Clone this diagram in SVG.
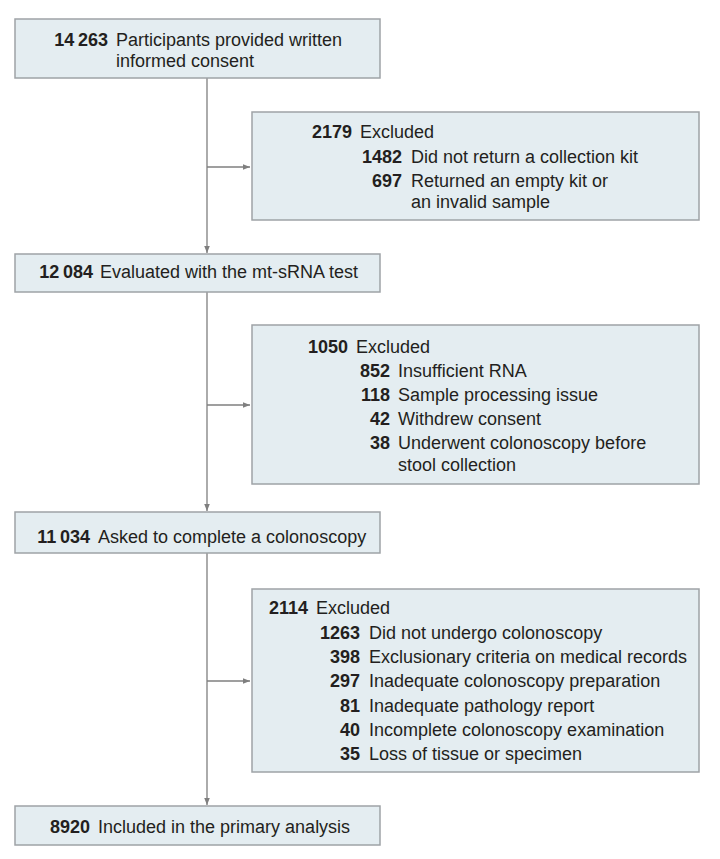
<svg xmlns="http://www.w3.org/2000/svg" width="720" height="859" viewBox="0 0 720 859">
<defs>
<marker id="ah" viewBox="0 0 10 10" refX="10" refY="5" markerWidth="7" markerHeight="7" markerUnits="userSpaceOnUse" orient="auto">
<path d="M0,1 L10,5 L0,9 Z" fill="#7f7f7f"/>
</marker>
<style>
.box{fill:#e4edf1;stroke:#9ea3a6;stroke-width:1.5}
text{font-family:"Liberation Sans",Arial,sans-serif;font-size:18px;fill:#231f20}
.n{font-weight:bold;text-anchor:end}
.ln{stroke:#7f7f7f;stroke-width:1.3;fill:none}
</style>
</defs>
<rect width="720" height="859" fill="#ffffff"/>
<g id="connectors">
<line class="ln" x1="207" y1="78" x2="207" y2="253" marker-end="url(#ah)"/>
<line class="ln" x1="207" y1="292" x2="207" y2="511" marker-end="url(#ah)"/>
<line class="ln" x1="207" y1="553" x2="207" y2="805" marker-end="url(#ah)"/>
<line class="ln" x1="207" y1="167" x2="250" y2="167" marker-end="url(#ah)"/>
<line class="ln" x1="207" y1="405" x2="250" y2="405" marker-end="url(#ah)"/>
<line class="ln" x1="207" y1="681" x2="250" y2="681" marker-end="url(#ah)"/>
</g>
<g id="n1">
<rect class="box" x="15" y="19" width="365" height="59"/>
<text class="n" x="108" y="46">14&#8201;263</text>
<text x="116" y="46">Participants provided written</text>
<text x="116" y="67">informed consent</text>
</g>
<g id="n2">
<rect class="box" x="252" y="112" width="447" height="108"/>
<text class="n" x="352" y="138">2179</text>
<text x="360" y="138">Excluded</text>
<text class="n" x="402" y="163">1482</text>
<text x="411" y="163">Did not return a collection kit</text>
<text class="n" x="402" y="187">697</text>
<text x="411" y="187">Returned an empty kit or</text>
<text x="411" y="208">an invalid sample</text>
</g>
<g id="n3">
<rect class="box" x="15" y="254" width="365" height="38"/>
<text class="n" x="93" y="278">12&#8201;084</text>
<text x="100" y="278">Evaluated with the mt-sRNA test</text>
</g>
<g id="n4">
<rect class="box" x="252" y="325" width="447" height="159"/>
<text class="n" x="348" y="353">1050</text>
<text x="356" y="353">Excluded</text>
<text class="n" x="390" y="377">852</text>
<text x="398" y="377">Insufficient RNA</text>
<text class="n" x="390" y="401">118</text>
<text x="398" y="401">Sample processing issue</text>
<text class="n" x="390" y="425">42</text>
<text x="398" y="425">Withdrew consent</text>
<text class="n" x="390" y="449">38</text>
<text x="398" y="449">Underwent colonoscopy before</text>
<text x="398" y="471">stool collection</text>
</g>
<g id="n5">
<rect class="box" x="15" y="512" width="365" height="41"/>
<text class="n" x="90" y="543">11&#8201;034</text>
<text x="98" y="543">Asked to complete a colonoscopy</text>
</g>
<g id="n6">
<rect class="box" x="252" y="589" width="447" height="183"/>
<text class="n" x="308" y="614">2114</text>
<text x="316" y="614">Excluded</text>
<text class="n" x="360" y="639">1263</text>
<text x="369" y="639">Did not undergo colonoscopy</text>
<text class="n" x="360" y="663">398</text>
<text x="369" y="663">Exclusionary criteria on medical records</text>
<text class="n" x="360" y="687">297</text>
<text x="369" y="687">Inadequate colonoscopy preparation</text>
<text class="n" x="360" y="712">81</text>
<text x="369" y="712">Inadequate pathology report</text>
<text class="n" x="360" y="736">40</text>
<text x="369" y="736">Incomplete colonoscopy examination</text>
<text class="n" x="360" y="760">35</text>
<text x="369" y="760">Loss of tissue or specimen</text>
</g>
<g id="n7">
<rect class="box" x="15" y="806" width="365" height="39"/>
<text class="n" x="90" y="833">8920</text>
<text x="98" y="833">Included in the primary analysis</text>
</g>
</svg>
